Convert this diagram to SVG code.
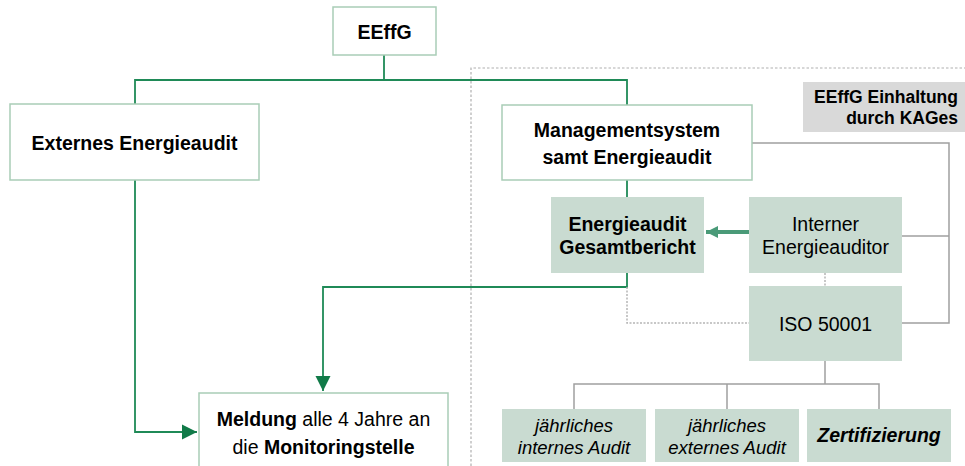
<svg xmlns="http://www.w3.org/2000/svg" width="965" height="466" viewBox="0 0 965 466">
<style>
text{font-family:"Liberation Sans",Arial,sans-serif;font-size:19.5px;fill:#000;text-anchor:middle}
.b{font-weight:bold}
.i{font-style:italic}
.s{font-size:18.5px}
.wbox{fill:#fff;stroke:#a9cdb7;stroke-width:1.5}
.gbox{fill:#c9dbd1;stroke:none}
.green{fill:none;stroke:#1f8a57;stroke-width:1.8}
.gray{fill:none;stroke:#a0a0a0;stroke-width:1.5}
.dot{fill:none;stroke:#b5b5b5;stroke-width:1.5;stroke-dasharray:2 1.5}
</style>
<defs>
<marker id="ah" viewBox="0 0 10 10" refX="10" refY="5" markerWidth="8.5" markerHeight="8.5" orient="auto" markerUnits="strokeWidth">
<path d="M0,0 L10,5 L0,10 Z" fill="#117a48"/>
</marker>
<marker id="ah2" viewBox="0 0 10 10" refX="10" refY="5" markerWidth="3" markerHeight="4" orient="auto" markerUnits="strokeWidth">
<path d="M0,0 L10,5 L0,10 Z" fill="#4a9a78"/>
</marker>
</defs>
<g id="region">
<path d="M471,466 V68 H965" fill="none" stroke="#b0b0b0" stroke-width="1.2" stroke-dasharray="2.5 2"/>
</g>
<g id="connectors">
<path class="green" d="M384,55 V80 M135,104 V80 H627 V105"/>
<path class="green" d="M627,180 V197"/>
<path class="green" d="M627,273 V287 H323 V391" marker-end="url(#ah)"/>
<path class="green" d="M135,180 V432 H197" marker-end="url(#ah)"/>
<path d="M749,232 H706" fill="none" stroke="#4a9a78" stroke-width="4" marker-end="url(#ah2)"/>
<path class="dot" d="M627,287 V323 H749"/>
<path class="dot" d="M825,273 V286"/>
<path class="gray" d="M752,143 H949 V323 H902 M902,236 H949"/>
<path class="gray" d="M825,361 V384 M574,409 V384 H879 V409 M727,384 V409"/>
</g>
<g id="note">
<rect x="803" y="82" width="162" height="50" fill="#d9d9d9"/>
<text class="b" x="958" y="103" style="text-anchor:end;font-size:17.5px">EEffG Einhaltung</text>
<text class="b" x="958" y="124" style="text-anchor:end;font-size:17.5px">durch KAGes</text>
</g>
<g id="eeffg">
<rect class="wbox" x="333" y="7" width="103" height="48"/>
<text class="b" x="384.5" y="39">EEffG</text>
</g>
<g id="externes">
<rect class="wbox" x="10" y="104" width="249" height="76"/>
<text class="b" x="134.5" y="150">Externes Energieaudit</text>
</g>
<g id="management">
<rect class="wbox" x="502" y="105" width="250" height="75"/>
<text class="b" x="627" y="137">Managementsystem</text>
<text class="b" x="627" y="164">samt Energieaudit</text>
</g>
<g id="gesamtbericht">
<rect class="gbox" x="551" y="197" width="153" height="76"/>
<text class="b" x="627.5" y="231">Energieaudit</text>
<text class="b" x="627.5" y="254">Gesamtbericht</text>
</g>
<g id="interner">
<rect class="gbox" x="749" y="197" width="153" height="76"/>
<text x="825.5" y="231">Interner</text>
<text x="825.5" y="254">Energieauditor</text>
</g>
<g id="iso">
<rect class="gbox" x="749" y="286" width="153" height="75"/>
<text x="825.5" y="331">ISO 50001</text>
</g>
<g id="meldung">
<rect class="wbox" x="199" y="393" width="249" height="80"/>
<text x="323.5" y="426"><tspan class="b">Meldung</tspan> alle 4 Jahre an</text>
<text x="323.5" y="454">die <tspan class="b">Monitoringstelle</tspan></text>
</g>
<g id="internes-audit">
<rect class="gbox" x="502" y="409" width="144" height="53"/>
<text class="i s" x="574" y="432">jährliches</text>
<text class="i s" x="574" y="454">internes Audit</text>
</g>
<g id="externes-audit">
<rect class="gbox" x="655" y="409" width="144" height="53"/>
<text class="i s" x="727" y="432">jährliches</text>
<text class="i s" x="727" y="454">externes Audit</text>
</g>
<g id="zertifizierung">
<rect class="gbox" x="807" y="409" width="144" height="53"/>
<text class="b i" x="879" y="442">Zertifizierung</text>
</g>
</svg>
